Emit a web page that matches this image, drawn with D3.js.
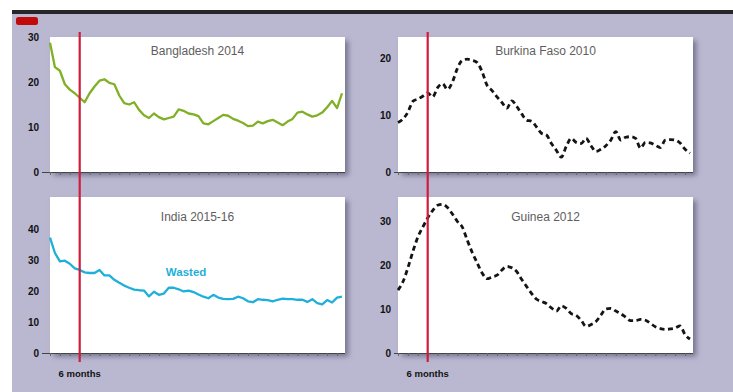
<!DOCTYPE html>
<html>
<head>
<meta charset="utf-8">
<script src="https://cdn.jsdelivr.net/npm/d3@7"></script>
<style>
  html, body { margin: 0; padding: 0; background: #ffffff; }
  svg { display: block; }
</style>
</head>
<body>
<svg id="chart" width="733" height="392"></svg>
<script>
// Share of children (%) by age in months, one survey per panel
const months = d3.range(0, 60);

const bangladesh = [28.7, 23.3, 22.5, 19.5, 18.3, 17.5, 16.5, 15.5, 17.5, 19.0,
  20.3, 20.6, 19.8, 19.5, 17.0, 15.3, 15.0, 15.5, 13.8, 12.6,
  12.0, 13.0, 12.2, 11.7, 12.0, 12.3, 13.9, 13.6, 13.0, 12.8,
  12.4, 10.8, 10.6, 11.3, 12.0, 12.7, 12.5, 11.8, 11.4, 10.9,
  10.2, 10.3, 11.2, 10.8, 11.3, 11.6, 11.0, 10.4, 11.2, 11.8,
  13.2, 13.4, 12.8, 12.3, 12.6, 13.2, 14.4, 15.8, 14.2, 17.5];

const burkinaFaso = [8.7, 9.3, 10.5, 12.4, 12.8, 13.3, 13.9, 13.2, 14.8, 15.5,
  14.5, 15.8, 18.2, 19.6, 19.8, 19.6, 19.2, 17.6, 15.2, 14.3,
  13.2, 12.2, 11.2, 12.5, 11.5, 10.2, 9.1, 8.9, 7.9, 6.8,
  6.5, 5.0, 3.8, 2.6, 4.5, 5.9, 5.2, 5.0, 5.9, 4.6,
  3.6, 4.0, 4.6, 5.6, 7.1, 5.6, 6.1, 6.2, 5.9, 4.2,
  5.2, 5.1, 4.7, 4.3, 5.6, 5.7, 5.6, 5.1, 4.0, 3.3];

const india = [37.5, 32.5, 29.8, 30.0, 29.0, 27.5, 27.0, 26.2, 26.0, 26.0,
  27.0, 25.2, 25.2, 23.8, 22.8, 21.9, 21.2, 20.6, 20.4, 20.3,
  18.4, 19.9, 18.9, 19.3, 21.2, 21.2, 20.7, 20.0, 20.3, 19.8,
  19.0, 18.3, 17.8, 18.9, 18.0, 17.6, 17.5, 17.6, 18.3, 17.8,
  16.8, 16.5, 17.5, 17.3, 17.2, 16.8, 17.3, 17.7, 17.5, 17.5,
  17.3, 17.3, 16.6, 17.5, 16.2, 15.8, 17.2, 16.4, 18.0, 18.3];

const guinea = [14.4, 16.3, 19.5, 23.2, 26.5, 28.8, 30.9, 32.6, 33.8, 34.0,
  33.3, 31.8, 30.1, 28.8, 25.8, 23.0, 20.6, 18.3, 17.0, 17.4,
  17.8, 19.0, 19.8, 19.5, 18.6, 16.8, 15.2, 13.6, 12.3, 11.8,
  11.3, 10.3, 9.6, 10.8, 10.2, 9.0, 8.6, 7.5, 6.1, 6.5,
  7.2, 8.7, 10.1, 10.2, 9.6, 9.0, 8.2, 7.4, 7.4, 7.7,
  7.5, 6.8, 6.0, 5.6, 5.4, 5.5, 5.7, 6.2, 4.2, 3.2];

const panelTitles = ["Bangladesh 2014", "Burkina Faso 2010", "India 2015-16", "Guinea 2012"];
const yTicks = [[0, 10, 20, 30], [0, 10, 20], [0, 10, 20, 30, 40], [0, 10, 20, 30]];
const yMax = [30, 23.7, 50.7, 35.7];
const xTickMonths = d3.range(0, 60, 2);
const markerMonth = 6;
const markerLabel = "6 months";
const seriesLabel = "Wasted";

const svg = d3.select("#chart");

// page frame
svg.append("rect").attr("x", 12).attr("y", 10).attr("width", 721).attr("height", 382).attr("fill", "#bab8d1");
svg.append("rect").attr("x", 12).attr("y", 10).attr("width", 721).attr("height", 4).attr("fill", "#262628");
svg.append("rect").attr("x", 16).attr("y", 17).attr("width", 22).attr("height", 8).attr("rx", 2.5).attr("fill", "#c20a0a");

const defs = svg.append("defs");
defs.append("filter").attr("id", "shadow").attr("x", "-5%").attr("y", "-5%").attr("width", "115%").attr("height", "125%")
  .append("feDropShadow").attr("dx", 3.5).attr("dy", 3.5).attr("stdDeviation", 2.5)
  .attr("flood-color", "#4e4e68").attr("flood-opacity", 0.6);

const colLeft = [50, 398];
const panelW = 295;
const rowTop = [37, 197];
const rowAxis = [172, 353];
const labelGap = [11, 7];

const panels = [
  { title: panelTitles[0], values: bangladesh, ticks: yTicks[0], max: yMax[0], col: 0, row: 0, color: "#80b026", dashed: false },
  { title: panelTitles[1], values: burkinaFaso, ticks: yTicks[1], max: yMax[1], col: 1, row: 0, color: "#141414", dashed: true },
  { title: panelTitles[2], values: india, ticks: yTicks[2], max: yMax[2], col: 0, row: 1, color: "#1fb0d9", dashed: false },
  { title: panelTitles[3], values: guinea, ticks: yTicks[3], max: yMax[3], col: 1, row: 1, color: "#141414", dashed: true }
];

const fontTitle = "'Liberation Sans', Arial, sans-serif";
const fontBold = "'Liberation Sans Narrow', 'Liberation Sans', Arial, sans-serif";

panels.forEach(p => {
  const left = colLeft[p.col];
  const top = rowTop[p.row];
  const axisY = rowAxis[p.row];
  const x = d3.scaleLinear().domain([0, 59]).range([left, left + panelW - 3]);
  const y = d3.scaleLinear().domain([0, p.max]).range([axisY, top]);
  const g = svg.append("g");

  g.append("rect").attr("x", left).attr("y", top).attr("width", panelW).attr("height", axisY - top)
    .attr("fill", "#ffffff").attr("filter", "url(#shadow)");

  // x axis with small month ticks
  const xAxis = d3.axisBottom(x).tickValues(xTickMonths).tickSize(3).tickFormat("");
  const xg = g.append("g").attr("transform", `translate(0,${axisY})`).call(xAxis);
  xg.select(".domain").attr("stroke", "#444").attr("d", `M${left - labelGap[p.col] + 3},0.5H${left + panelW}`);
  xg.selectAll(".tick line").attr("stroke", "#666");

  // y tick labels
  g.selectAll(".ylab").data(p.ticks).join("text")
    .attr("x", left - labelGap[p.col]).attr("y", d => y(d)).attr("dy", "0.35em")
    .attr("text-anchor", "end").attr("font-family", fontBold).attr("font-weight", "bold")
    .attr("font-size", 10).attr("fill", "#111").text(d => d);

  g.append("text").attr("x", left + panelW / 2).attr("y", p.row === 0 ? 55 : 221)
    .attr("text-anchor", "middle").attr("font-family", fontTitle).attr("font-size", 12)
    .attr("fill", "#5e5e5e").text(p.title);

  const line = d3.line().x((d, i) => x(months[i])).y(d => y(d))
    .curve(p.dashed ? d3.curveMonotoneX : d3.curveLinear);
  const path = g.append("path").datum(p.values).attr("d", line).attr("fill", "none")
    .attr("stroke", p.color).attr("stroke-width", p.dashed ? 2.8 : 2.3).attr("stroke-linejoin", "round");
  if (p.dashed) path.attr("stroke-dasharray", "5,3.5");
});

// series label in the India panel
{
  const xl = d3.scaleLinear().domain([0, 59]).range([colLeft[0], colLeft[0] + panelW - 3]);
  svg.append("text").attr("x", xl(27.5)).attr("y", 276).attr("text-anchor", "middle")
    .attr("font-family", fontBold).attr("font-weight", "bold").attr("font-size", 11.5)
    .attr("fill", "#1fb0d9").text(seriesLabel);
}

// 6-month marker across both rows, with its label below each column
colLeft.forEach(left => {
  const x = d3.scaleLinear().domain([0, 59]).range([left, left + panelW - 3]);
  svg.append("line").attr("x1", x(markerMonth)).attr("x2", x(markerMonth)).attr("y1", 32).attr("y2", 362)
    .attr("stroke", "#cf1d3c").attr("stroke-width", 2.2);
  svg.append("text").attr("x", x(markerMonth)).attr("y", 377).attr("text-anchor", "middle")
    .attr("font-family", fontBold).attr("font-weight", "bold").attr("font-size", 9.5)
    .attr("fill", "#111").text(markerLabel);
});
</script>
</body>
</html>
